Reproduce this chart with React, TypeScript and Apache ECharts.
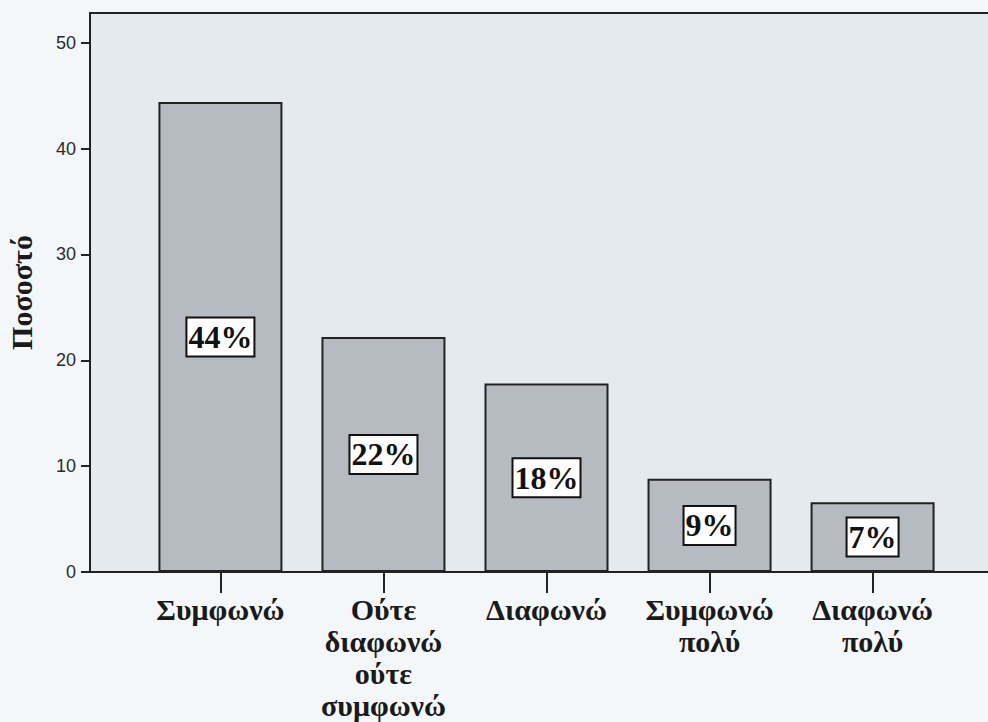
import { useEffect, useRef } from "react";
import * as echarts from "echarts";

// Survey answers (x axis) and share of respondents in percent (y axis)
const categories = [
  "Συμφωνώ",
  "Ούτε\nδιαφωνώ\nούτε\nσυμφωνώ",
  "Διαφωνώ",
  "Συμφωνώ\nπολύ",
  "Διαφωνώ\nπολύ",
];
const percentages = [44.4, 22.2, 17.8, 8.8, 6.6];
const yTickValues = [0, 10, 20, 30, 40, 50];
const yAxisTitle = "Ποσοστό";

const SERIF = '"Liberation Serif", "DejaVu Serif", serif';
const SANS = '"Liberation Sans", Arial, sans-serif';
const INK = "#222";

export default function App() {
  const ref = useRef<HTMLDivElement>(null);

  useEffect(() => {
    document.body.style.margin = "0";
    document.body.style.background = "#f3f7fa";
    const chart = echarts.init(ref.current!, null, { renderer: "svg" });
    const catIdx = categories.map((_, i) => i);

    chart.setOption({
      animation: false,
      backgroundColor: "#f3f7fa",
      grid: {
        left: 90,
        top: 13,
        width: 913,
        height: 559,
        show: true,
        backgroundColor: "#e5eaef",
        borderColor: INK,
        borderWidth: 2,
        containLabel: false,
        outerBoundsMode: "none",
      },
      xAxis: {
        type: "value",
        min: -0.8,
        max: 4.8,
        splitLine: { show: false },
        axisLine: { show: true, onZero: false, lineStyle: { color: INK, width: 2 } },
        axisTick: {
          show: true,
          customValues: catIdx,
          length: 21,
          lineStyle: { color: INK, width: 2 },
        },
        axisLabel: {
          customValues: catIdx,
          formatter: (v: number) => categories[Math.round(v)] ?? "",
          margin: 21,
          color: "#1a1a1a",
          fontFamily: SERIF,
          fontWeight: "bold",
          fontSize: 30,
          lineHeight: 32,
          verticalAlign: "top",
        },
      },
      yAxis: {
        type: "value",
        min: 0,
        max: 52.8,
        name: yAxisTitle,
        nameLocation: "middle",
        nameRotate: 90,
        nameGap: 54,
        nameMoveOverlap: false,
        nameTextStyle: {
          color: "#1a1a1a",
          fontFamily: SERIF,
          fontWeight: "bold",
          fontSize: 30,
        },
        splitLine: { show: false },
        axisLine: { show: true, onZero: false, lineStyle: { color: INK, width: 2 } },
        axisTick: {
          show: true,
          customValues: yTickValues,
          length: 9,
          lineStyle: { color: INK, width: 2 },
        },
        axisLabel: {
          customValues: yTickValues,
          margin: 14,
          color: "#2a2a2a",
          fontFamily: SANS,
          fontSize: 18,
        },
      },
      series: [
        {
          type: "bar",
          data: percentages.map((v, i) => [i, v]),
          barWidth: 124,
          itemStyle: {
            color: "#b6bbc2",
            borderColor: INK,
            borderWidth: 2,
          },
          label: {
            show: true,
            position: "inside",
            formatter: (p: any) => `${Math.round(p.value[1])}%`,
            color: "#111",
            fontFamily: SERIF,
            fontWeight: "bold",
            fontSize: 32,
            lineHeight: 33,
            backgroundColor: "#ffffff",
            borderColor: "#111",
            borderWidth: 2,
            padding: [3, 1, 1, 1],
          },
        },
      ],
    });

    return () => chart.dispose();
  }, []);

  return <div ref={ref} style={{ width: 988, height: 722 }} />;
}
